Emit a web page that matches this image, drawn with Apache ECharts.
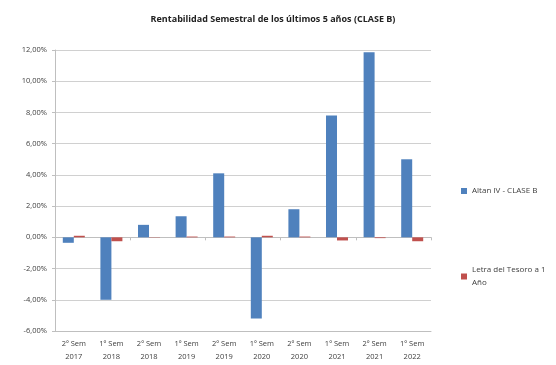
<!DOCTYPE html>
<html>
<head>
<meta charset="utf-8">
<script src="https://cdn.jsdelivr.net/npm/echarts@6/dist/echarts.min.js"></script>
<style>
  html, body { margin: 0; padding: 0; background: #fff; }
  #chart { width: 556px; height: 365px; }
</style>
</head>
<body>
<div id="chart"></div>
<script>
// Semesters shown on the horizontal axis
var semesters = ['2º Sem\n2017', '1º Sem\n2018', '2º Sem\n2018', '1º Sem\n2019', '2º Sem\n2019',
                 '1º Sem\n2020', '2º Sem\n2020', '1º Sem\n2021', '2º Sem\n2021', '1º Sem\n2022'];
// Semiannual return (%) of the fund
var altanValues = [-0.35, -4.0, 0.8, 1.35, 4.1, -5.2, 1.8, 7.8, 11.85, 5.0];
// Semiannual return (%) of the one-year Treasury bill
var letraValues = [0.1, -0.25, 0.02, 0.05, 0.05, 0.1, 0.05, -0.2, -0.05, -0.25];

var seriesNames = ['Altan IV - CLASE B', 'Letra del Tesoro a 1 Año'];

var labelFont = 'Open Sans, Liberation Sans, sans-serif';
var chart = echarts.init(document.getElementById('chart'));

chart.setOption({
  animation: false,
  backgroundColor: '#fff',
  title: {
    text: 'Rentabilidad Semestral de los últimos 5 años (CLASE B)',
    left: 268, top: 10, textAlign: 'center',
    textStyle: { fontSize: 9, fontWeight: 'bold', color: '#222', fontFamily: labelFont }
  },
  legend: [
    {
      data: [seriesNames[0]], left: 456, top: 182, orient: 'vertical',
      itemWidth: 6, itemHeight: 6, itemGap: 4, icon: 'rect',
      textStyle: { fontSize: 8, color: '#404040', fontFamily: labelFont }
    },
    {
      data: [seriesNames[1]], left: 456, top: 258, orient: 'vertical',
      itemWidth: 6, itemHeight: 6, icon: 'rect',
      formatter: function () { return 'Letra del Tesoro a 1\nAño'; },
      textStyle: { fontSize: 8, color: '#404040', fontFamily: labelFont, lineHeight: 13, verticalAlign: 'top', padding: [1, 0, 0, 0] }
    }
  ],
  grid: { left: 55, right: 125, top: 50, bottom: 34, containLabel: false },
  xAxis: [
    {
      type: 'category', data: semesters, position: 'bottom',
      axisLine: { onZero: false, lineStyle: { color: '#bfbfbf' } },
      axisTick: { show: false },
      axisLabel: { fontSize: 7.5, color: '#404040', fontFamily: labelFont, lineHeight: 13, margin: 6, interval: 0 }
    },
    {
      type: 'category', data: semesters, position: 'bottom',
      axisLine: { onZero: true, lineStyle: { color: '#bfbfbf' } },
      axisTick: { show: true, length: 3, inside: false, lineStyle: { color: '#bfbfbf' } },
      axisLabel: { show: false }
    }
  ],
  yAxis: {
    type: 'value', min: -6, max: 12, interval: 2,
    axisLine: { show: true, lineStyle: { color: '#bfbfbf' } },
    axisTick: { show: true, length: 3, lineStyle: { color: '#bfbfbf' } },
    splitLine: { lineStyle: { color: '#d0d0d0' } },
    axisLabel: {
      fontSize: 7.5, color: '#404040', fontFamily: labelFont, margin: 8,
      formatter: function (v) { return v.toFixed(2).replace('.', ',') + '%'; }
    }
  },
  series: [
    {
      name: seriesNames[0], type: 'bar', data: altanValues, xAxisIndex: 0,
      barWidth: 11, barGap: '0%', itemStyle: { color: '#4F81BD' }
    },
    {
      name: seriesNames[1], type: 'bar', data: letraValues, xAxisIndex: 0,
      barWidth: 11, barGap: '0%', itemStyle: { color: '#C0504D' }
    }
  ]
});
</script>
</body>
</html>
